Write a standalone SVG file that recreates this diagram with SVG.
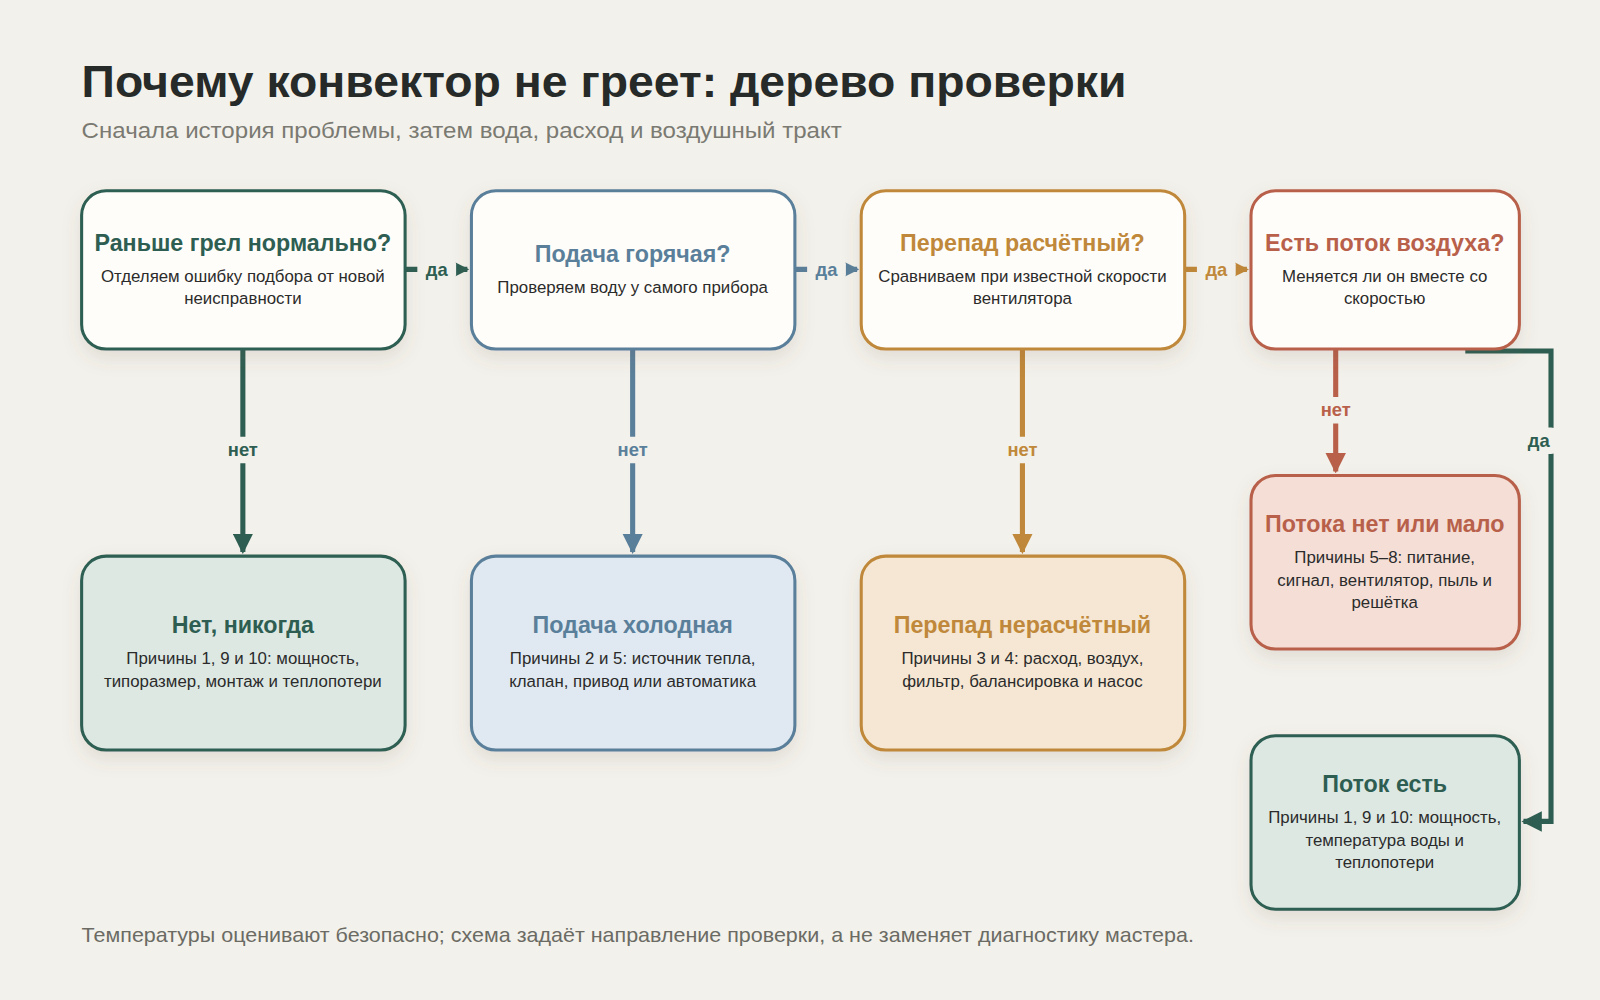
<svg xmlns="http://www.w3.org/2000/svg" width="1600" height="1000" viewBox="0 0 1600 1000">
<defs>
<filter id="sh" x="-20%" y="-20%" width="140%" height="150%"><feDropShadow dx="0" dy="8" stdDeviation="9" flood-color="#6b5a40" flood-opacity="0.13"/></filter>
<marker id="ag" viewBox="0 0 10 10" refX="9" refY="5" markerWidth="4" markerHeight="4" orient="auto"><path d="M0,0L10,5L0,10z" fill="#2e5e52"/></marker>
<marker id="ab" viewBox="0 0 10 10" refX="9" refY="5" markerWidth="4" markerHeight="4" orient="auto"><path d="M0,0L10,5L0,10z" fill="#5a7f9a"/></marker>
<marker id="ao" viewBox="0 0 10 10" refX="9" refY="5" markerWidth="4" markerHeight="4" orient="auto"><path d="M0,0L10,5L0,10z" fill="#c0883a"/></marker>
<marker id="ar" viewBox="0 0 10 10" refX="9" refY="5" markerWidth="4" markerHeight="4" orient="auto"><path d="M0,0L10,5L0,10z" fill="#b8604a"/></marker>
</defs>
<style>
text{font-family:"Liberation Sans",Arial,sans-serif;text-anchor:middle}
.box{stroke-width:3;filter:url(#sh)}
.t{font-size:22.8px;font-weight:bold}
.d{font-size:16.5px;fill:#2b2b2b}
.ln{fill:none;stroke-width:5}
.lb{font-size:18px;font-weight:bold}
.lbg{fill:#f3f1eb}
</style>
<rect width="1600" height="1000" fill="#f3f1eb"/>
<g transform="scale(1.0204)">
<text x="80" y="95" textLength="1024" lengthAdjust="spacingAndGlyphs" style="text-anchor:start;font-size:44px;font-weight:bold;fill:#262a28">Почему конвектор не греет: дерево проверки</text>
<text x="80" y="135" textLength="745" lengthAdjust="spacingAndGlyphs" style="text-anchor:start;font-size:22px;fill:#7a7a72">Сначала история проблемы, затем вода, расход и воздушный тракт</text>
<text x="80" y="923" textLength="1090" lengthAdjust="spacingAndGlyphs" style="text-anchor:start;font-size:19px;fill:#6b6b64">Температуры оценивают безопасно; схема задаёт направление проверки, а не заменяет диагностику мастера.</text>

<g id="connectors">
<path class="ln" stroke="#2e5e52" d="M397,264H458" marker-end="url(#ag)"/>
<path class="ln" stroke="#5a7f9a" d="M779,264H840" marker-end="url(#ab)"/>
<path class="ln" stroke="#c0883a" d="M1161,264H1222" marker-end="url(#ao)"/>
<path class="ln" stroke="#2e5e52" d="M238,342V541" marker-end="url(#ag)"/>
<path class="ln" stroke="#5a7f9a" d="M620,342V541" marker-end="url(#ab)"/>
<path class="ln" stroke="#c0883a" d="M1002,342V541" marker-end="url(#ao)"/>
<path class="ln" stroke="#b8604a" d="M1309,342V462" marker-end="url(#ar)"/>
<path class="ln" stroke="#2e5e52" d="M1436,344H1520V805H1493" marker-end="url(#ag)"/>
<rect class="lbg" x="409" y="251" width="38" height="26" rx="8"/><text class="lb" x="428" y="270" fill="#2e5e52">да</text>
<rect class="lbg" x="791" y="251" width="38" height="26" rx="8"/><text class="lb" x="810" y="270" fill="#5a7f9a">да</text>
<rect class="lbg" x="1173" y="251" width="38" height="26" rx="8"/><text class="lb" x="1192" y="270" fill="#c0883a">да</text>
<rect class="lbg" x="216" y="428" width="44" height="26" rx="8"/><text class="lb" x="238" y="447" fill="#2e5e52">нет</text>
<rect class="lbg" x="598" y="428" width="44" height="26" rx="8"/><text class="lb" x="620" y="447" fill="#5a7f9a">нет</text>
<rect class="lbg" x="980" y="428" width="44" height="26" rx="8"/><text class="lb" x="1002" y="447" fill="#c0883a">нет</text>
<rect class="lbg" x="1287" y="389" width="44" height="26" rx="8"/><text class="lb" x="1309" y="408" fill="#b8604a">нет</text>
<rect class="lbg" x="1490" y="419" width="38" height="26" rx="8"/><text class="lb" x="1508" y="438" fill="#2e5e52">да</text>
</g>

<g id="n1"><rect class="box" x="80" y="187" width="317" height="155" rx="24" fill="#fffdf9" stroke="#2e5e52"/>
<text class="t" x="238" y="246" fill="#2e5e52">Раньше грел нормально?</text>
<text class="d" x="238" y="276">Отделяем ошибку подбора от новой</text><text class="d" x="238" y="298">неисправности</text></g>
<g id="n2"><rect class="box" x="462" y="187" width="317" height="155" rx="24" fill="#fffdf9" stroke="#5a7f9a"/>
<text class="t" x="620" y="257" fill="#5a7f9a">Подача горячая?</text>
<text class="d" x="620" y="287">Проверяем воду у самого прибора</text></g>
<g id="n3"><rect class="box" x="844" y="187" width="317" height="155" rx="24" fill="#fffdf9" stroke="#c0883a"/>
<text class="t" x="1002" y="246" fill="#c0883a">Перепад расчётный?</text>
<text class="d" x="1002" y="276">Сравниваем при известной скорости</text><text class="d" x="1002" y="298">вентилятора</text></g>
<g id="n4"><rect class="box" x="1226" y="187" width="263" height="155" rx="24" fill="#fffdf9" stroke="#b8604a"/>
<text class="t" x="1357" y="246" fill="#b8604a">Есть поток воздуха?</text>
<text class="d" x="1357" y="276">Меняется ли он вместе со</text><text class="d" x="1357" y="298">скоростью</text></g>

<g id="n5"><rect class="box" x="80" y="545" width="317" height="190" rx="24" fill="#dde8e3" stroke="#2e5e52"/>
<text class="t" x="238" y="620" fill="#2e5e52">Нет, никогда</text>
<text class="d" x="238" y="651">Причины 1, 9 и 10: мощность,</text><text class="d" x="238" y="673">типоразмер, монтаж и теплопотери</text></g>
<g id="n6"><rect class="box" x="462" y="545" width="317" height="190" rx="24" fill="#e0e9f1" stroke="#5a7f9a"/>
<text class="t" x="620" y="620" fill="#5a7f9a">Подача холодная</text>
<text class="d" x="620" y="651">Причины 2 и 5: источник тепла,</text><text class="d" x="620" y="673">клапан, привод или автоматика</text></g>
<g id="n7"><rect class="box" x="844" y="545" width="317" height="190" rx="24" fill="#f5e7d3" stroke="#c0883a"/>
<text class="t" x="1002" y="620" fill="#c0883a">Перепад нерасчётный</text>
<text class="d" x="1002" y="651">Причины 3 и 4: расход, воздух,</text><text class="d" x="1002" y="673">фильтр, балансировка и насос</text></g>
<g id="n8"><rect class="box" x="1226" y="466" width="263" height="170" rx="24" fill="#f4ded6" stroke="#b8604a"/>
<text class="t" x="1357" y="521" fill="#b8604a">Потока нет или мало</text>
<text class="d" x="1357" y="552">Причины 5–8: питание,</text><text class="d" x="1357" y="574">сигнал, вентилятор, пыль и</text><text class="d" x="1357" y="596">решётка</text></g>
<g id="n9"><rect class="box" x="1226" y="721" width="263" height="170" rx="24" fill="#dde8e3" stroke="#2e5e52"/>
<text class="t" x="1357" y="776" fill="#2e5e52">Поток есть</text>
<text class="d" x="1357" y="807">Причины 1, 9 и 10: мощность,</text><text class="d" x="1357" y="829">температура воды и</text><text class="d" x="1357" y="851">теплопотери</text></g>
</g>
</svg>
